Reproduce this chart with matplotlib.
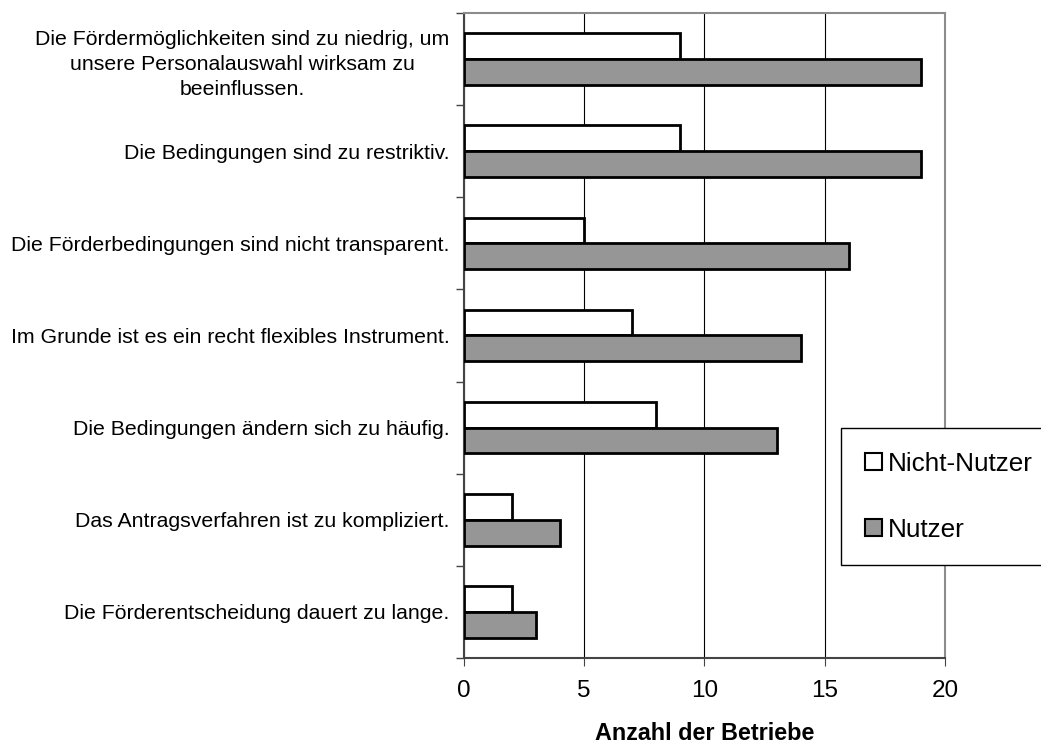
import numpy as np
import matplotlib.pyplot as plt
from matplotlib.patches import Patch

plt.rcParams['font.family'] = ['Liberation Sans', 'DejaVu Sans']

kategorien = [
    "Die Fördermöglichkeiten sind zu niedrig, um\nunsere Personalauswahl wirksam zu\nbeeinflussen.",
    "Die Bedingungen sind zu restriktiv.",
    "Die Förderbedingungen sind nicht transparent.",
    "Im Grunde ist es ein recht flexibles Instrument.",
    "Die Bedingungen ändern sich zu häufig.",
    "Das Antragsverfahren ist zu kompliziert.",
    "Die Förderentscheidung dauert zu lange.",
]
nicht_nutzer = [9, 9, 5, 7, 8, 2, 2]
nutzer = [19, 19, 16, 14, 13, 4, 3]

fig = plt.figure(figsize=(10.41, 7.45), dpi=100)
ax = fig.add_axes([0.4457, 0.1168, 0.4621, 0.8658])

n = len(kategorien)
y = np.arange(n)[::-1]  # erste Kategorie oben
h = 0.28

ax.barh(y + h / 2, nicht_nutzer, height=h, color="white", edgecolor="black",
        linewidth=2, zorder=3)
ax.barh(y - h / 2, nutzer, height=h, color="#969696", edgecolor="black",
        linewidth=2, zorder=3)

ax.set_xlim(0, 20)
ax.set_ylim(-0.5, n - 0.5)
ax.set_xticks([0, 5, 10, 15, 20])
ax.xaxis.grid(True, color="black", linewidth=0.8, zorder=0)

ax.set_yticks(y)
ax.set_yticklabels(kategorien, fontsize=15.3, multialignment="center",
                   linespacing=1.4)
ax.tick_params(axis="y", length=0, pad=10.5)
ax.set_yticks(np.arange(n + 1) - 0.5, minor=True)
ax.tick_params(axis="y", which="minor", length=6, width=1, color="#444444")
ax.tick_params(axis="x", labelsize=17.5, length=6, color="#444444", pad=10)

for s in ["left", "bottom"]:
    ax.spines[s].set_color("#444444")
    ax.spines[s].set_linewidth(1.5)
for s in ["top", "right"]:
    ax.spines[s].set_color("#8c8c8c")
    ax.spines[s].set_linewidth(1.5)

ax.set_xlabel("Anzahl der Betriebe", fontsize=16.8, fontweight="bold", labelpad=14)

handles = [Patch(facecolor="white", edgecolor="black", linewidth=1.5),
           Patch(facecolor="#969696", edgecolor="black", linewidth=1.5)]
leg = fig.legend(handles, ["Nicht-Nutzer", "Nutzer"],
                 loc="upper left", bbox_to_anchor=(0.808, 0.4255),
                 fontsize=18.8, frameon=True, fancybox=False, edgecolor="black",
                 framealpha=1, handlelength=0.65, handleheight=0.65,
                 handletextpad=0.25, labelspacing=1.62, borderpad=0.9,
                 borderaxespad=0)
leg.get_frame().set_linewidth(1)

fig.savefig("out.png", dpi=100)
